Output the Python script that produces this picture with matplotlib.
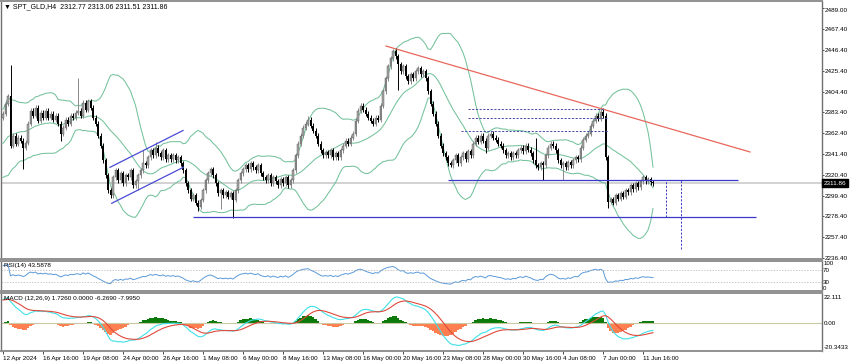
import numpy as np
import pandas as pd
import matplotlib
matplotlib.use('Agg')
import matplotlib.pyplot as plt

plt.rcParams['font.family'] = ['Liberation Sans', 'DejaVu Sans']

header = "\u25bc SPT_GLD,H4  2312.77 2313.06 2311.51 2311.86"
rsi_title = "RSI(14) 43.5878"
macd_title = "MACD (12,26,9) 1.7260 0.0000 -6.2690 -7.9950"

# H4 closes before the visible window (only used to seed the indicators)
warmup_close = [2195, 2200, 2198, 2205, 2210, 2207, 2214, 2220, 2217, 2224,
                2230, 2227, 2235, 2240, 2237, 2244, 2250, 2247, 2255, 2260,
                2265, 2262, 2270, 2276, 2281, 2278, 2285, 2290, 2296, 2300,
                2295, 2302, 2308, 2312, 2306, 2315, 2318, 2316, 2320, 2318,
                2322, 2326, 2330, 2326, 2334, 2338, 2335, 2342, 2347, 2345,
                2350, 2356, 2352, 2360, 2364, 2362, 2368, 2372, 2375, 2378]

# visible H4 closes, 12 Apr 2024 00:00 onwards
close = [2382, 2392, 2400, 2350,
         2360, 2352, 2358, 2355, 2348, 2353,
         2372, 2385, 2380, 2388, 2375, 2383, 2378,
         2385, 2378, 2382, 2376, 2380, 2372,
         2362, 2368,
         2376, 2372, 2380, 2378, 2383,
         2385,
         2380, 2393, 2386, 2395, 2388,
         2378, 2372, 2360,
         2350, 2335, 2320, 2305, 2300,
         2318, 2325, 2315, 2322, 2312, 2320, 2318, 2325, 2310, 2314, 2320,
         2325, 2332, 2330, 2338, 2345, 2340, 2348, 2342, 2338, 2345, 2336, 2340,
         2336, 2340, 2335, 2338, 2332,
         2325, 2312, 2305, 2296, 2300, 2292, 2288,
         2295, 2305, 2315, 2322, 2326, 2320,
         2312, 2302, 2305, 2300, 2303, 2298, 2302, 2295,
         2305, 2315, 2322, 2326,
         2330, 2326, 2332, 2328, 2325, 2330, 2322,
         2318, 2315, 2320, 2312, 2318, 2314, 2310, 2316, 2312, 2318, 2310, 2315,
         2325, 2340, 2352, 2360, 2368, 2372,
         2376,
         2370, 2365, 2360, 2352, 2345, 2340, 2343,
         2340, 2345, 2338, 2342, 2338,
         2345, 2350, 2355, 2352, 2358, 2362,
         2375, 2385, 2390, 2386,
         2382, 2378, 2375, 2372, 2378, 2376,
         2390, 2405, 2418, 2430, 2438, 2445,
         2440,
         2432, 2425, 2430, 2420, 2415, 2422, 2418, 2425,
         2428, 2422, 2425, 2418,
         2405, 2392, 2382,
         2372, 2360, 2350, 2342, 2338, 2332, 2330,
         2335, 2340, 2332, 2338, 2342, 2336, 2344, 2340,
         2352, 2358, 2354, 2360, 2355, 2348,
         2360, 2362, 2358, 2356, 2352, 2350,
         2345, 2340, 2342, 2338, 2342, 2340,
         2345, 2348, 2344, 2350, 2346, 2342,
         2335, 2330, 2328, 2332, 2330,
         2340, 2348, 2352, 2350, 2345,
         2335, 2330, 2332, 2328, 2333, 2330,
         2335, 2338, 2336,
         2348, 2356, 2360, 2362,
         2370, 2375, 2380, 2377, 2384, 2380,
         2338, 2293,
         2296, 2292, 2300, 2296, 2302, 2298, 2305, 2303,
         2310, 2306, 2312, 2308, 2314,
         2318, 2314, 2316, 2313, 2311.86]

spike_high = {3: 2431, 30: 2418, 56: 2345, 61: 2354, 122: 2380, 157: 2449,
              213: 2358, 240: 2388, 256: 2320, 257: 2320}
spike_low = {8: 2326, 23: 2355, 43: 2297, 54: 2305, 78: 2284, 87: 2286,
             92: 2277, 158: 2406, 179: 2328, 193: 2342, 216: 2315, 224: 2315,
             242: 2287}
wick = 2.5

date_labels = ["12 Apr 2024", "16 Apr 16:00", "19 Apr 08:00", "24 Apr 00:00",
               "26 Apr 16:00", "1 May 08:00", "6 May 00:00", "8 May 16:00",
               "13 May 08:00", "16 May 00:00", "20 May 16:00", "23 May 08:00",
               "28 May 00:00", "30 May 16:00", "4 Jun 08:00", "7 Jun 00:00",
               "11 Jun 16:00"]
price_ticks = [2489.00, 2467.40, 2446.40, 2425.40, 2404.40, 2383.40, 2362.40,
               2341.40, 2320.40, 2299.40, 2278.40, 2257.40, 2236.40]
last_price = 2311.86

# drawn objects (candle index, price)
resistance = [(153.2, 2450.5), (298.8, 2343.5)]
channel_top = [(42.8, 2328.0), (72.0, 2365.2)]
channel_bottom = [(43.5, 2291.7), (72.1, 2328.0)]
support_upper = (178.0, 294.0, 2314.7)
support_lower = (76.0, 301.2, 2277.8)
dotted_levels = [(186.0, 240.0, 2386.6), (186.0, 242.0, 2377.5), (183.0, 242.0, 2364.7)]
target_lines = [(265.2, 2314.7, 2277.8), (271.2, 2314.7, 2245.5)]

# ---- indicators
allc = pd.Series(warmup_close + close, dtype=float)
n0 = len(warmup_close)
mid = allc.rolling(20).mean()
sd = allc.rolling(20).std(ddof=0)
bb_up = (mid + 2 * sd).values[n0:]
bb_lo = (mid - 2 * sd).values[n0:]
bb_mid = mid.values[n0:]

diff = allc.diff()
gain = diff.clip(lower=0).ewm(alpha=1 / 14, adjust=False).mean()
loss = (-diff.clip(upper=0)).ewm(alpha=1 / 14, adjust=False).mean()
rsi = (100 - 100 / (1 + gain / loss)).values[n0:]

macd = allc.ewm(span=12, adjust=False).mean() - allc.ewm(span=26, adjust=False).mean()
sig = macd.ewm(span=9, adjust=False).mean()
hist = (macd - sig).values[n0:]
macd = macd.values[n0:]
sig = sig.values[n0:]

x = np.arange(len(close))
opens = np.array([warmup_close[-1]] + close[:-1], dtype=float)
closes = np.array(close, dtype=float)
highs = np.maximum(opens, closes) + wick
lows = np.minimum(opens, closes) - wick
for k, v in spike_high.items():
    highs[k] = v
for k, v in spike_low.items():
    lows[k] = v

# ---- figure
W, H = 850, 364
fig = plt.figure(figsize=(W / 100, H / 100), dpi=100)
fig.patch.set_facecolor('white')

def box(top, bottom):
    return [1 / W, 1 - bottom / H, 821 / W, (bottom - top) / H]

ax = fig.add_axes(box(1, 259))
ax_rsi = fig.add_axes(box(261, 291), sharex=ax)
ax_macd = fig.add_axes(box(293, 351), sharex=ax)

xlim = (-0.8, 327.6)
for a in (ax, ax_rsi, ax_macd):
    for s in a.spines.values():
        s.set_color('#707070')
        s.set_linewidth(1.0)
    a.spines['bottom'].set_color('#909090')
    a.spines['top'].set_color('#909090')
    a.spines['bottom'].set_linewidth(1.4)
    a.spines['top'].set_linewidth(1.4)
    a.yaxis.tick_right()
    a.tick_params(axis='y', labelsize=4.6, length=1.5, width=0.5, pad=0.8, colors='black')
    a.tick_params(axis='x', length=0)
    a.set_xlim(*xlim)

# main panel
ax.set_ylim(2235.4, 2496.0)
ax.axhline(last_price, color='#cfcfcf', lw=1.3, zorder=1)
for band in (bb_up, bb_mid, bb_lo):
    ax.plot(x, band, color='#74c29b', lw=0.75, zorder=2)

bull = closes >= opens
ax.vlines(x[bull], lows[bull], highs[bull], color='#8a8a8a', lw=0.7, zorder=3)
ax.vlines(x[~bull], lows[~bull], highs[~bull], color='black', lw=0.7, zorder=3)
body = np.where(np.abs(closes - opens) < 0.6, 0.6, closes - opens)
ax.bar(x[bull], body[bull], bottom=opens[bull], width=0.62, color='#a6a6a6',
       edgecolor='#505050', linewidth=0.3, zorder=4)
ax.bar(x[~bull], body[~bull], bottom=opens[~bull], width=0.62, color='black',
       linewidth=0, zorder=4)

ax.plot(*zip(*resistance), color='#e8675c', lw=0.9, zorder=5)
ax.plot(*zip(*channel_top), color='#4a4ad6', lw=0.9, zorder=5)
ax.plot(*zip(*channel_bottom), color='#4a4ad6', lw=0.9, zorder=5)
for x0, x1, p in (support_upper, support_lower):
    ax.hlines(p, x0, x1, color='#3a3ac8', lw=0.9, zorder=5)
for x0, x1, p in dotted_levels:
    ax.hlines(p, x0, x1, color='#4a4aa8', lw=0.7, linestyles=(0, (2.2, 1.6)), zorder=5)
for xv, p0, p1 in target_lines:
    ax.vlines(xv, p1, p0, color='#3a3ac8', lw=0.7, linestyles=(0, (2.2, 1.6)), zorder=5)

ax.set_yticks(price_ticks)
ax.set_yticklabels([f"{v:.2f}" for v in price_ticks])
ax.get_yticklabels()[0].set_va('top')
ax.tick_params(axis='x', labelbottom=False)
ax.annotate(f"{last_price:.2f}", xy=(1.0, last_price), xycoords=('axes fraction', 'data'),
            xytext=(1.5, 0), textcoords='offset points', ha='left', va='center',
            fontsize=4.6, color='white',
            bbox=dict(boxstyle='square,pad=0.25', fc='black', ec='black'), zorder=10,
            annotation_clip=False)
ax.text(0.004, 0.992, header, transform=ax.transAxes, fontsize=5, va='top', ha='left')

# RSI panel
ax_rsi.set_ylim(0, 100)
ax_rsi.plot(x, rsi, color='#5b9ad8', lw=0.7)
for lvl in (70, 30):
    ax_rsi.axhline(lvl, color='#b0b0b0', lw=0.5, ls=(0, (2, 2)))
ax_rsi.set_yticks([100, 70, 30, 0])
ax_rsi.set_yticklabels(['100', '70', '30', '0'])
for lab, va in zip(ax_rsi.get_yticklabels(), ['top', 'center', 'center', 'bottom']):
    lab.set_va(va)
ax_rsi.tick_params(axis='y', labelsize=4.4, length=0)
ax_rsi.tick_params(axis='x', labelbottom=False)
ax_rsi.text(0.004, 0.95, rsi_title, transform=ax_rsi.transAxes,
            fontsize=4.6, va='top', ha='left')

# MACD panel
ax_macd.set_ylim(-23.7, 25.5)
pos = np.where(hist > 0, hist, 0)
neg = np.where(hist < 0, hist, 0)
ax_macd.bar(x, pos, width=1.0, color='#0b7a0b', linewidth=0)
ax_macd.bar(x, neg, width=1.0, color='#ff7f50', linewidth=0)
ax_macd.axhline(0, color='#c9c9a6', lw=0.8, zorder=1)
ax_macd.plot(x, macd, color='#40e0e8', lw=0.8)
ax_macd.plot(x, sig, color='#e04a3c', lw=0.8)
ax_macd.set_yticks([22.111, 0.0, -20.3433])
ax_macd.set_yticklabels(['22.111', '0.00', '-20.3433'])
ax_macd.tick_params(axis='y', length=0, pad=1.2, labelsize=4.5)
ax_macd.text(0.004, 0.95, macd_title, transform=ax_macd.transAxes,
             fontsize=4.6, va='top', ha='left')

ax_macd.set_xticks(np.arange(len(date_labels)) * 16)
ax_macd.set_xticklabels(date_labels)
ax_macd.tick_params(axis='x', labelsize=4.5, length=2, width=0.5, pad=1.5)
for lab in ax_macd.get_xticklabels():
    lab.set_ha('left')

fig.savefig('out.png', dpi=100)
